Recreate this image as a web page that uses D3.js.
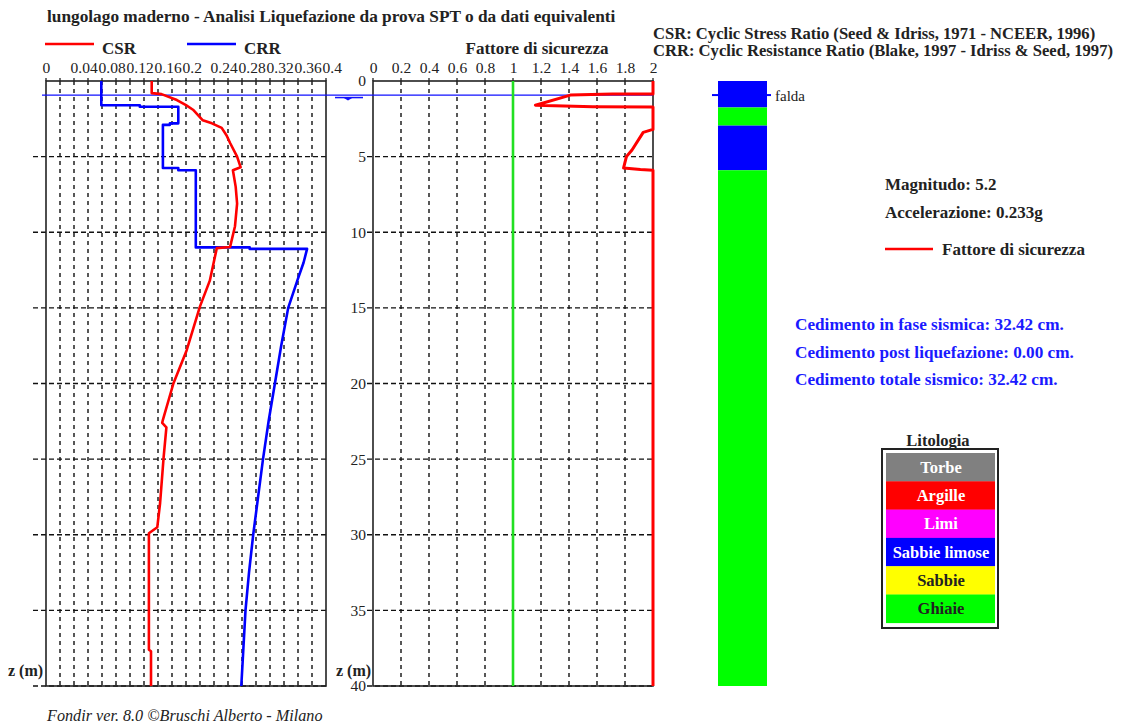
<!DOCTYPE html>
<html>
<head>
<meta charset="utf-8">
<script src="https://cdn.jsdelivr.net/npm/d3@7"></script>
<style>
  body { margin: 0; background: #fff; }
  svg text { font-family: "Liberation Serif", "Times New Roman", serif; }
</style>
</head>
<body>
<svg id="chart" width="1130" height="726"></svg>
<script>
// ---- Profile data: [depth (m), value] ----
const csrProfile = [
  [0, 0.151], [0.8, 0.151], [0.87, 0.165], [1.26, 0.187], [1.6, 0.200], [1.9, 0.210],
  [2.6, 0.224], [2.8, 0.237], [3.1, 0.251], [3.6, 0.258], [4.1, 0.263], [5.0, 0.273],
  [5.7, 0.278], [5.9, 0.267], [7.0, 0.271], [8.1, 0.273], [9.6, 0.270], [10.97, 0.263],
  [11.05, 0.244], [13.2, 0.234], [14.9, 0.220], [17.8, 0.201], [20.0, 0.182],
  [22.4, 0.167], [22.6, 0.166], [22.9, 0.172], [24.9, 0.168], [27.9, 0.163],
  [29.5, 0.159], [29.9, 0.147], [37.6, 0.147], [37.7, 0.150], [40, 0.150]
];

const crrProfile = [
  [0, 0.079], [1.6, 0.079], [1.6, 0.134], [1.7, 0.134], [1.7, 0.189], [2.8, 0.189],
  [2.8, 0.177], [2.9, 0.177], [2.9, 0.167], [5.75, 0.167], [5.75, 0.189], [5.9, 0.189],
  [5.9, 0.214], [11.0, 0.214], [11.0, 0.291], [11.1, 0.291], [11.1, 0.373],
  [12.0, 0.368], [13.2, 0.359], [15.0, 0.346], [17.5, 0.336], [20.0, 0.327],
  [22.5, 0.318], [25.0, 0.310], [27.5, 0.303], [30.0, 0.296], [32.5, 0.290],
  [35.0, 0.285], [37.5, 0.282], [40.0, 0.279]
];

// safety factor, shown clipped at 2
const fsProfile = [
  [0, 2], [0.86, 2], [0.86, 1.71], [0.93, 1.41], [1.6, 1.16], [1.7, 1.57], [1.72, 2],
  [3.2, 2], [3.4, 1.93], [4.56, 1.85], [5.0, 1.81], [5.75, 1.79], [5.85, 1.91],
  [5.9, 2], [40, 2]
];

// lithology column: [top, bottom, class]
const layers = [
  [0, 1.75, "Sabbie limose"], [1.75, 2.95, "Ghiaie"],
  [2.95, 5.9, "Sabbie limose"], [5.9, 40, "Ghiaie"]
];
const lithoClasses = ["Torbe", "Argille", "Limi", "Sabbie limose", "Sabbie", "Ghiaie"];
const lithoColors  = ["#808080", "#ff0000", "#ff00ff", "#0000ff", "#ffff00", "#00ff00"];
const lithoText    = ["#ffffff", "#ffffff", "#ffffff", "#ffffff", "#222222", "#222222"];

const waterDepth = 0.93;
const fsLimit = 1;

// ---- Tick values and labels ----
const csrTicks = [0, 0.04, 0.08, 0.12, 0.16, 0.2, 0.24, 0.28, 0.32, 0.36, 0.4];
const csrTickLabels = ["0", "0.04", "0.08", "0.12", "0.16", "0.2", "0.24", "0.28", "0.32", "0.36", "0.4"];
const fsTicks = [0, 0.2, 0.4, 0.6, 0.8, 1, 1.2, 1.4, 1.6, 1.8, 2];
const fsTickLabels = ["0", "0.2", "0.4", "0.6", "0.8", "1", "1.2", "1.4", "1.6", "1.8", "2"];
const depthTicks = [0, 5, 10, 15, 20, 25, 30, 35, 40];
const depthTickLabels = ["0", "5", "10", "15", "20", "25", "30", "35", "40"];

// ---- Text ----
const titleText = "lungolago maderno - Analisi Liquefazione da prova SPT o da dati equivalenti";
const methodNotes = [
  "CSR: Cyclic Stress Ratio (Seed & Idriss, 1971 - NCEER, 1996)",
  "CRR: Cyclic Resistance Ratio (Blake, 1997 - Idriss & Seed, 1997)"
];
const quakeInfo = ["Magnitudo: 5.2", "Accelerazione: 0.233g"];
const settlementInfo = [
  "Cedimento in fase sismica: 32.42 cm.",
  "Cedimento post liquefazione: 0.00 cm.",
  "Cedimento totale sismico: 32.42 cm."
];
const footerText = "Fondir ver. 8.0 \u00A9Bruschi Alberto - Milano";

// ---- Layout ----
const svg = d3.select("#chart");
const plotTop = 81, plotBottom = 686;
const P1 = { x0: 46, x1: 326 };
const P2 = { x0: 373, x1: 653 };
const col = { x0: 718, x1: 767 };

const y = d3.scaleLinear().domain([0, 40]).range([plotTop, plotBottom]);
const xCsr = d3.scaleLinear().domain([0, 0.4]).range([P1.x0, P1.x1]);
const xFs = d3.scaleLinear().domain([0, 2]).range([P2.x0, P2.x1]);

// ---- Grids ----
function grid(g, x, minorTicks, x0, x1, tickLen) {
  const [d0, d1] = x.domain();
  g.selectAll(".vg").data(minorTicks.filter(t => t > d0 + 1e-9 && t < d1 - 1e-9))
    .join("line")
    .attr("x1", d => x(d)).attr("x2", d => x(d))
    .attr("y1", plotTop).attr("y2", plotBottom)
    .attr("stroke", "#111").attr("stroke-width", 1.4).attr("stroke-dasharray", "4,4");
  g.selectAll(".hg").data(depthTicks.slice(1))
    .join("line")
    .attr("x1", x0 - tickLen).attr("x2", x1)
    .attr("y1", d => y(d)).attr("y2", d => y(d))
    .attr("stroke", "#111").attr("stroke-width", 1.4).attr("stroke-dasharray", "5,3");
  // small ticks above the top edge
  g.selectAll(".tt").data(minorTicks)
    .join("line")
    .attr("x1", d => x(d)).attr("x2", d => x(d))
    .attr("y1", plotTop - 3).attr("y2", plotTop)
    .attr("stroke", "#111").attr("stroke-width", 1.2);
}

const g1 = svg.append("g");
grid(g1, xCsr, xCsr.ticks(20), P1.x0, P1.x1, 13);
const g2 = svg.append("g");
grid(g2, xFs, xFs.ticks(10), P2.x0, P2.x1, 6);

// ---- Top axes ----
const axCsr = d3.axisTop(xCsr).tickValues(csrTicks).tickSize(0).tickPadding(8)
  .tickFormat((d, i) => csrTickLabels[i]);
svg.append("g").attr("transform", `translate(0,${plotTop})`).call(axCsr)
  .call(g => g.select(".domain").remove())
  .selectAll("text").attr("font-size", 15.5).attr("fill", "#222")
  .attr("font-family", "Liberation Serif").attr("text-anchor", "start").attr("dx", -4);

const axFs = d3.axisTop(xFs).tickValues(fsTicks).tickSize(0).tickPadding(8)
  .tickFormat((d, i) => fsTickLabels[i]);
svg.append("g").attr("transform", `translate(0,${plotTop})`).call(axFs)
  .call(g => g.select(".domain").remove())
  .selectAll("text").attr("font-size", 15.5).attr("fill", "#222")
  .attr("font-family", "Liberation Serif");

// depth axis of the safety-factor panel
const axDepth = d3.axisLeft(y).tickValues(depthTicks).tickSize(0).tickPadding(7)
  .tickFormat((d, i) => depthTickLabels[i]);
svg.append("g").attr("transform", `translate(${P2.x0},0)`).call(axDepth)
  .call(g => g.select(".domain").remove())
  .selectAll("text").attr("font-size", 15.5).attr("fill", "#222")
  .attr("font-family", "Liberation Serif");

// ---- Frames ----
[P1, P2].forEach(p => {
  svg.append("rect").attr("x", p.x0).attr("y", plotTop)
    .attr("width", p.x1 - p.x0).attr("height", plotBottom - plotTop)
    .attr("fill", "none").attr("stroke", "#222").attr("stroke-width", 1.6);
});

// ---- Water table ----
const wy = y(waterDepth);
svg.append("line")
  .attr("x1", 42).attr("x2", P2.x1).attr("y1", wy).attr("y2", wy)
  .attr("stroke", "#1010ff").attr("stroke-width", 1.3);
svg.append("line")
  .attr("x1", 335).attr("x2", 363).attr("y1", wy + 2.5).attr("y2", wy + 2.5)
  .attr("stroke", "#1010ff").attr("stroke-width", 1.5);
svg.append("path")
  .attr("d", `M343,${wy + 2.5}L353,${wy + 2.5}L348,${wy + 5.5}Z`)
  .attr("fill", "#1010ff");

// ---- Profiles ----
const lineCsr = d3.line().x(d => xCsr(d[1])).y(d => y(d[0]));
const lineFs = d3.line().x(d => xFs(Math.min(d[1], 2))).y(d => y(d[0]));

svg.append("path").datum(crrProfile).attr("d", lineCsr)
  .attr("fill", "none").attr("stroke", "#0000ff").attr("stroke-width", 2.6).attr("stroke-linejoin", "round");
svg.append("path").datum(csrProfile).attr("d", lineCsr)
  .attr("fill", "none").attr("stroke", "#ff0000").attr("stroke-width", 2.6).attr("stroke-linejoin", "round");

svg.append("line")
  .attr("x1", xFs(fsLimit)).attr("x2", xFs(fsLimit)).attr("y1", plotTop).attr("y2", plotBottom)
  .attr("stroke", "#22e022").attr("stroke-width", 2.6);
svg.append("path").datum(fsProfile).attr("d", lineFs)
  .attr("fill", "none").attr("stroke", "#ff0000").attr("stroke-width", 3).attr("stroke-linejoin", "round");

// ---- Panel headings ----
svg.append("text").attr("x", 47).attr("y", 22)
  .attr("font-size", 17.3).attr("font-weight", "bold").attr("fill", "#222").text(titleText);

const legend = [["CSR", "#ff0000", 45], ["CRR", "#0000ff", 187]];
legend.forEach(([name, color, lx]) => {
  svg.append("line").attr("x1", lx).attr("x2", lx + 49).attr("y1", 44).attr("y2", 44)
    .attr("stroke", color).attr("stroke-width", 2.6);
  svg.append("text").attr("x", lx + 57).attr("y", 54)
    .attr("font-size", 17).attr("font-weight", "bold").attr("fill", "#222").text(name);
});

svg.append("text").attr("x", 537).attr("y", 54).attr("text-anchor", "middle")
  .attr("font-size", 17).attr("font-weight", "bold").attr("fill", "#222").text("Fattore di sicurezza");

svg.selectAll(".note").data(methodNotes).join("text")
  .attr("x", 653).attr("y", (d, i) => 39 + i * 17)
  .attr("font-size", 16.6).attr("font-weight", "bold").attr("fill", "#222").text(d => d);

svg.append("text").attr("x", 8).attr("y", 676)
  .attr("font-size", 16).attr("font-weight", "bold").attr("fill", "#222").text("z (m)");
svg.append("text").attr("x", 336).attr("y", 676)
  .attr("font-size", 16).attr("font-weight", "bold").attr("fill", "#222").text("z (m)");

// ---- Lithology column ----
svg.selectAll(".layer").data(layers).join("rect")
  .attr("x", col.x0).attr("width", col.x1 - col.x0)
  .attr("y", d => y(d[0])).attr("height", d => y(d[1]) - y(d[0]))
  .attr("fill", d => lithoColors[lithoClasses.indexOf(d[2])]);

svg.append("line").attr("x1", 712).attr("x2", col.x0).attr("y1", wy).attr("y2", wy)
  .attr("stroke", "#0000ff").attr("stroke-width", 2);
svg.append("line").attr("x1", col.x1).attr("x2", 771).attr("y1", wy).attr("y2", wy)
  .attr("stroke", "#0000ff").attr("stroke-width", 2);
svg.append("text").attr("x", 775).attr("y", wy + 6)
  .attr("font-size", 15).attr("fill", "#222").text("falda");

// ---- Earthquake info and legend ----
svg.selectAll(".quake").data(quakeInfo).join("text")
  .attr("x", 885).attr("y", (d, i) => 190 + i * 28)
  .attr("font-size", 17).attr("font-weight", "bold").attr("fill", "#222").text(d => d);
svg.append("line").attr("x1", 885).attr("x2", 933).attr("y1", 249).attr("y2", 249)
  .attr("stroke", "#ff0000").attr("stroke-width", 2.6);
svg.append("text").attr("x", 942).attr("y", 255)
  .attr("font-size", 17).attr("font-weight", "bold").attr("fill", "#222").text("Fattore di sicurezza");

svg.selectAll(".settle").data(settlementInfo).join("text")
  .attr("x", 795).attr("y", (d, i) => 330 + i * 27.5)
  .attr("font-size", 17.2).attr("font-weight", "bold").attr("fill", "#1a1aff").text(d => d);

// ---- Lithology legend ----
svg.append("text").attr("x", 938).attr("y", 446).attr("text-anchor", "middle")
  .attr("font-size", 16.5).attr("font-weight", "bold").attr("fill", "#222").text("Litologia");
svg.append("rect").attr("x", 882).attr("y", 449).attr("width", 116).attr("height", 179)
  .attr("fill", "#fff").attr("stroke", "#222").attr("stroke-width", 2);
const stripH = 28.3;
lithoClasses.forEach((name, i) => {
  svg.append("rect").attr("x", 886).attr("y", 453 + i * stripH)
    .attr("width", 109).attr("height", stripH + 0.3).attr("fill", lithoColors[i]);
  svg.append("text").attr("x", 941).attr("y", 453 + i * stripH + stripH / 2 + 5.5)
    .attr("text-anchor", "middle").attr("font-size", 16.5).attr("font-weight", "bold")
    .attr("fill", lithoText[i]).text(name);
});

// ---- Footer ----
svg.append("text").attr("x", 47).attr("y", 721)
  .attr("font-size", 16.2).attr("font-style", "italic").attr("fill", "#222").text(footerText);
</script>
</body>
</html>
